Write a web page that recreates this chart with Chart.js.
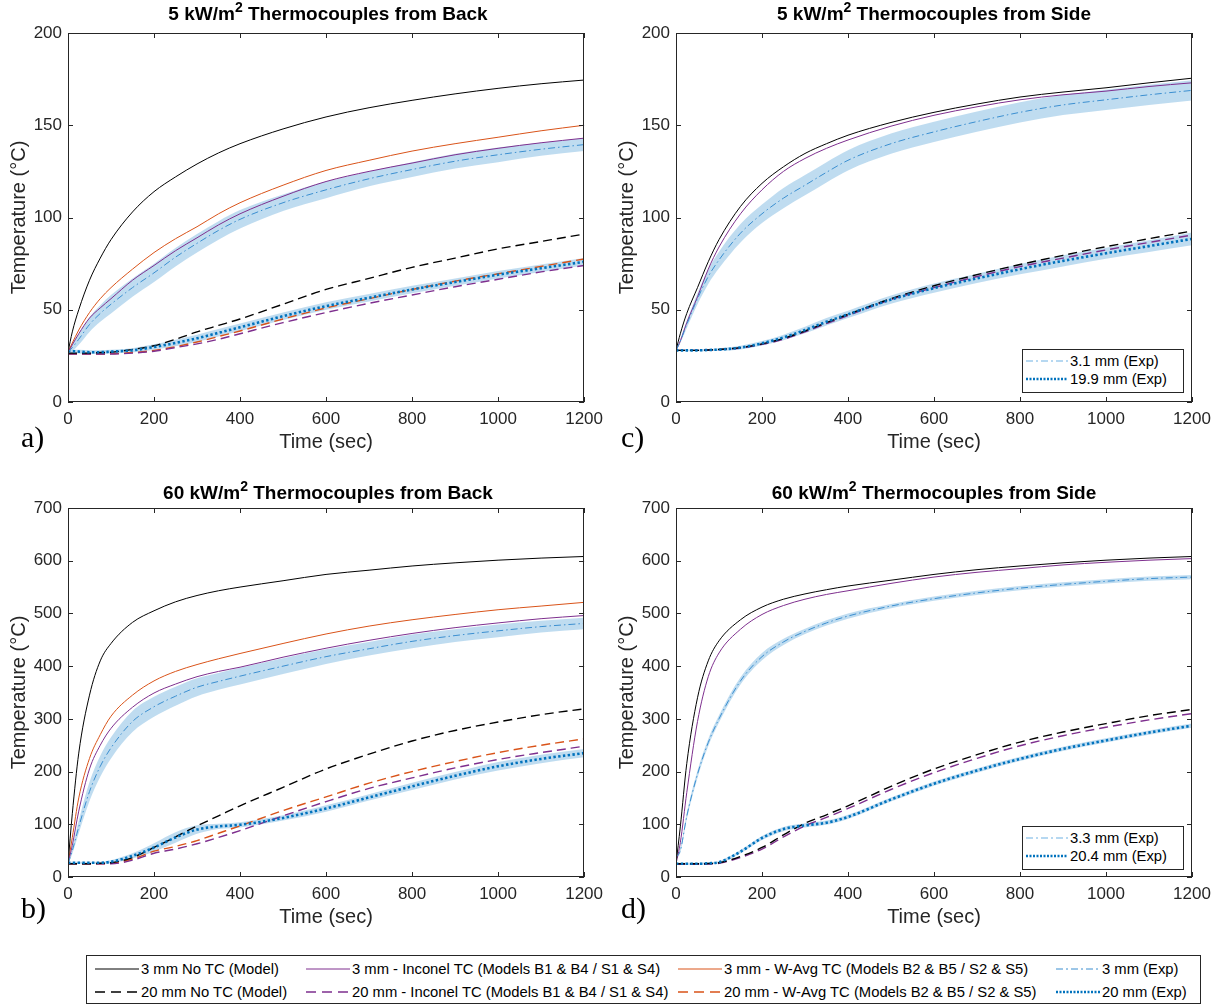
<!DOCTYPE html>
<html>
<head>
<meta charset="utf-8">
<script src="https://cdn.jsdelivr.net/npm/chart.js@4"></script>
<style>
  body { margin: 0; background: #fff; font-family: "Liberation Sans", Arial, sans-serif; color: #262626; }
  #fig { position: relative; width: 1220px; height: 1007px; }
  .panel { position: absolute; width: 610px; height: 460px; }
  .ttl { position: absolute; font-weight: bold; font-size: 19px; color: #000; white-space: nowrap; transform: translateX(-50%); }
  .ttl sup { font-size: 14px; vertical-align: 8px; line-height: 0; }
  .lab { position: absolute; font-family: "Liberation Serif", "Times New Roman", serif; font-size: 30px; color: #000; }
  .legbox { position: absolute; border: 1px solid #262626; background: #fff; }
  .item { position: absolute; display: flex; align-items: center; font-size: 14.8px; white-space: nowrap; color: #000; }
  .item svg { display: block; margin-right: 2px; }
</style>
</head>
<body>
<div id="fig">
  <div class="panel" style="left:0;top:0"><canvas id="cA"></canvas></div>
  <div class="panel" style="left:608px;top:0"><canvas id="cC"></canvas></div>
  <div class="panel" style="left:0;top:475px"><canvas id="cB"></canvas></div>
  <div class="panel" style="left:608px;top:475px"><canvas id="cD"></canvas></div>

  <div class="ttl" style="left:328px;top:3px">5 kW/m<sup>2</sup> Thermocouples from Back</div>
  <div class="ttl" style="left:934px;top:3px">5 kW/m<sup>2</sup> Thermocouples from Side</div>
  <div class="ttl" style="left:328px;top:482px">60 kW/m<sup>2</sup> Thermocouples from Back</div>
  <div class="ttl" style="left:934px;top:482px">60 kW/m<sup>2</sup> Thermocouples from Side</div>

  <div class="lab" style="left:21px;top:420px">a)</div>
  <div class="lab" style="left:21px;top:891px">b)</div>
  <div class="lab" style="left:621px;top:420px">c)</div>
  <div class="lab" style="left:621px;top:891px">d)</div>

  <div id="legC" class="legbox" style="left:1022px;top:349px;width:160px;height:42px"></div>
  <div id="legD" class="legbox" style="left:1022px;top:826px;width:160px;height:42px"></div>
  <div id="legMain" class="legbox" style="left:86px;top:955px;width:1113px;height:47px"></div>
</div>

<script>
// time axis (sec)
const T = [0, 10, 25, 50, 75, 100, 150, 200, 250, 300, 350, 400, 500, 600, 700, 800, 900, 1000, 1100, 1200];

// a) 5 kW/m2, from back
const aNoTC3 = [27, 38, 50, 66, 78, 88, 103, 114, 122, 129, 135, 140, 148, 154.5, 159.5, 163.5, 167, 170, 172.5, 174.5];
const aInc3 = [27, 31, 37, 45.5, 51, 56, 66, 74, 82, 89, 96, 102, 111.5, 119.5, 125, 129.5, 134, 137.5, 140.5, 143];
const aWavg3 = [27, 32, 39, 48.5, 56, 62, 72, 81, 88.5, 95, 102, 108, 117.5, 125.5, 131, 136, 140, 143.5, 147, 150];
const aExp3 = [27, 29.5, 34, 42, 48, 53, 62, 70, 78.5, 86, 93, 99, 108, 115, 121, 126, 130.5, 134, 137, 139.5];
const aExp3Band = [1, 2, 3, 4, 4.5, 5, 5, 5, 5, 5, 5, 5, 4.5, 4.5, 4, 4, 4, 4, 3.5, 3.5];
const aNoTC20 = [26.5, 26.5, 26.5, 26.5, 26.8, 27, 28.5, 30.5, 34, 38, 41.5, 45, 53, 61, 67, 73, 78, 83, 87, 91];
const aInc20 = [26, 26, 26, 26, 26, 26, 26.5, 27.5, 29.5, 31.5, 34, 37, 43, 48.5, 53.5, 58, 62.5, 66.5, 70.5, 74];
const aWavg20 = [26, 26, 26, 26, 26, 26.2, 26.8, 28, 30, 32.5, 35.5, 38.5, 45, 51, 56, 61, 65.5, 69.5, 73.5, 77.5];
const aExp20 = [27.5, 27.5, 27.3, 27, 27, 27.3, 28, 29.8, 32, 34.5, 37.5, 40.5, 46.5, 52, 56.5, 61, 65, 69, 72.5, 76];
const aExp20Band = [1, 1, 1, 1, 1, 1, 1.2, 1.5, 1.8, 2, 2, 2, 2, 2, 2, 2, 2, 2, 2, 2];

// c) 5 kW/m2, from side
const cNoTC3 = [28, 37, 48, 62, 76, 88, 106, 118.5, 127.5, 134.7, 140, 144.6, 151.5, 157, 161.5, 165.3, 168, 170.3, 173, 175.5];
const cInc3 = [28, 33, 43, 57, 72, 84, 102, 115, 125, 132, 137.5, 142, 149.5, 155.4, 160, 163.8, 166.5, 168.5, 171, 173];
const cExp3 = [28, 33, 42, 56, 68, 77, 91.5, 102, 110.5, 117.5, 124.5, 131, 140, 146.4, 152, 157, 161, 163.8, 166.5, 168.9];
const cExp3Band = [0.5, 1, 2, 3, 4, 4.5, 5, 5, 5.5, 5.5, 5.5, 5.5, 5.5, 5.5, 5.5, 5.5, 5.5, 5.5, 5.5, 5.5];
const cNoTC20 = [28, 28, 28, 28, 28.2, 28.5, 29.5, 31.5, 34.5, 38.5, 43, 47.5, 56, 63, 69, 74.5, 79.5, 84.2, 88.5, 92.7];
const cInc20 = [28, 28, 28, 28, 28.2, 28.4, 29.3, 31.2, 34, 38, 42.5, 46.8, 55.5, 62, 68, 73.4, 78, 82.4, 86.5, 90.5];
const cExp20 = [28, 28, 28, 28, 28.2, 28.4, 29.5, 31.8, 35, 39, 43.5, 47.5, 55.5, 61.7, 67, 72, 76.5, 80.6, 84.5, 88.4];
const cExp20Band = [0.5, 0.5, 0.5, 0.5, 0.5, 0.7, 1, 1.2, 1.5, 1.8, 2, 2, 2.2, 2.5, 2.5, 2.8, 3, 3, 3.2, 3.5];

// b) 60 kW/m2, from back
const bNoTC3 = [25, 120, 235, 345, 410, 443, 483, 505, 522, 534, 543, 550, 562, 574, 582, 590, 596, 601, 605, 608];
const bInc3 = [25, 60, 125, 205, 250, 282, 322, 349, 366, 380, 390, 398, 417, 434, 449, 462, 473, 482, 490, 496];
const bWavg3 = [25, 75, 150, 225, 270, 305, 345, 372, 390, 403, 414, 424, 443, 461, 476, 488, 498, 507, 514, 521];
const bExp3 = [25, 50, 95, 162, 210, 245, 295, 323, 343, 360, 371, 381, 400, 418, 433, 447, 458, 467, 475, 481];
const bExp3Band = [2, 6, 12, 18, 20, 20, 20, 19, 18, 17, 16, 16, 15, 14, 13, 13, 12, 12, 11, 11];
const bNoTC20 = [25, 25, 25, 25, 26, 27, 37, 56, 76, 97, 116, 135, 170, 205, 233, 258, 278, 294, 308, 319];
const bInc20 = [25, 25, 25, 25, 25, 25, 32, 45, 53, 63, 75, 88, 116, 143, 168, 188, 207, 223, 236, 248];
const bWavg20 = [25, 25, 25, 25, 25, 26, 34, 49, 58, 69, 83, 97, 126, 152, 178, 200, 219, 236, 250, 262];
const bExp20 = [27, 27, 27, 27, 27, 29, 40, 56, 75, 90, 96, 99, 112, 130, 151, 172, 192, 210, 224, 235];
const bExp20Band = [2, 2, 2, 2, 2, 3, 5, 8, 10, 8, 5, 5, 5, 6, 6, 7, 7, 8, 8, 8];

// d) 60 kW/m2, from side
const dNoTC3 = [25, 95, 215, 340, 410, 448, 488, 512, 527, 537, 545, 552, 563, 574, 583, 590, 596, 601, 605, 608];
const dInc3 = [25, 65, 160, 295, 380, 425, 470, 498, 515, 527, 536, 543, 557, 569, 578, 585, 592, 597, 601, 604];
const dExp3 = [38, 50, 115, 195, 255, 300, 372, 418, 446, 466, 482, 495, 514, 528, 539, 548, 555, 561, 566, 569];
const dExp3Band = [2, 4, 6, 7, 7, 7, 7, 7, 6, 5, 5, 5, 4, 4, 4, 4, 4, 4, 4, 4];
const dNoTC20 = [25, 25, 25, 25, 25.5, 27, 39, 56, 80, 102, 118, 135, 172, 205, 232, 256, 275, 291, 306, 318];
const dInc20 = [24, 24, 24, 24, 24.5, 26, 37, 53, 76, 97, 113, 130, 166, 198, 225, 249, 268, 284, 298, 310];
const dExp20 = [25, 25, 25, 25, 26, 28, 48, 74, 91, 98, 103, 114, 147, 177, 202, 224, 243, 259, 274, 287];
const dExp20Band = [2, 2, 2, 2, 2, 2, 3, 4, 4, 4, 4, 4, 4, 4, 4, 4, 4, 4, 4, 4];

const BLACK = '#000000', PURPLE = '#7E2F8E', ORANGE = '#D95319', BLUE = '#0072BD';
const DASHDOT_BLUE = '#3A8ED0', BAND = 'rgba(180, 214, 237, 0.85)';
const AX = '#262626';
const FONT = '"Liberation Sans", Arial, Helvetica, sans-serif';

const pts = arr => arr.map((v, i) => ({ x: T[i], y: v }));

function line(data, color, opts) {
  return Object.assign({
    data: pts(data), borderColor: color, borderWidth: 1, pointRadius: 0,
    fill: false, cubicInterpolationMode: 'monotone', order: 1
  }, opts || {});
}
function band(mid, spread) {
  const lo = mid.map((v, i) => v - spread[i]);
  const hi = mid.map((v, i) => v + spread[i]);
  return [
    { data: pts(lo), borderWidth: 0, pointRadius: 0, fill: false, cubicInterpolationMode: 'monotone', order: 5 },
    { data: pts(hi), borderWidth: 0, pointRadius: 0, fill: '-1', backgroundColor: BAND, cubicInterpolationMode: 'monotone', order: 5 }
  ];
}

// inward ticks on all four sides plus box
const framePlugin = {
  id: 'frame',
  afterDraw(chart) {
    const { ctx, chartArea: a, scales: { x, y } } = chart;
    ctx.save();
    ctx.strokeStyle = AX;
    ctx.lineWidth = 1;
    ctx.beginPath();
    x.ticks.forEach(t => {
      const px = Math.round(x.getPixelForValue(t.value)) + 0.5;
      ctx.moveTo(px, a.bottom); ctx.lineTo(px, a.bottom - 5);
      ctx.moveTo(px, a.top); ctx.lineTo(px, a.top + 5);
    });
    y.ticks.forEach(t => {
      const py = Math.round(y.getPixelForValue(t.value)) + 0.5;
      ctx.moveTo(a.left, py); ctx.lineTo(a.left + 5, py);
      ctx.moveTo(a.right, py); ctx.lineTo(a.right - 5, py);
    });
    ctx.stroke();
    ctx.strokeRect(Math.round(a.left) + 0.5, Math.round(a.top) + 0.5,
      Math.round(a.right - a.left) - 1, Math.round(a.bottom - a.top) - 1);
    ctx.restore();
  }
};

function makePanel(id, s, yMax, yStep, rightPad) {
  const ds = [];
  ds.push(line(s.exp3, DASHDOT_BLUE, { borderDash: [7, 3, 1.5, 3], order: 0 }));
  ds.push(line(s.exp20, BLUE, { borderWidth: 2.6, borderDash: [2.4, 2.4], order: 0 }));
  ds.push(line(s.noTC3, BLACK));
  ds.push(line(s.inc3, PURPLE));
  if (s.wavg3) ds.push(line(s.wavg3, ORANGE));
  ds.push(line(s.noTC20, BLACK, { borderWidth: 1.4, borderDash: [9, 5] }));
  ds.push(line(s.inc20, PURPLE, { borderWidth: 1.4, borderDash: [9, 5] }));
  if (s.wavg20) ds.push(line(s.wavg20, ORANGE, { borderWidth: 1.4, borderDash: [9, 5] }));
  ds.push(...band(s.exp3, s.exp3Band));
  ds.push(...band(s.exp20, s.exp20Band));

  const tickFont = { family: FONT, size: 17 };
  const titleFont = { family: FONT, size: 20 };
  new Chart(document.getElementById(id), {
    type: 'line',
    data: { datasets: ds },
    options: {
      responsive: true,
      maintainAspectRatio: false,
      animation: false,
      layout: { padding: { top: 33, right: rightPad, bottom: 0, left: 0 } },
      plugins: {
        legend: { display: false },
        tooltip: { enabled: false },
        filler: { drawTime: 'beforeDatasetsDraw' }
      },
      scales: {
        x: {
          type: 'linear', min: 0, max: 1200,
          grid: { display: false, drawTicks: false }, border: { display: false },
          ticks: { stepSize: 200, color: AX, font: tickFont, padding: 7, maxRotation: 0, callback: v => String(v) },
          title: { display: true, text: 'Time (sec)', color: AX, font: titleFont, padding: { top: 0, bottom: 6 } },
          afterFit: sc => { sc.height = 58; }
        },
        y: {
          min: 0, max: yMax,
          grid: { display: false, drawTicks: false }, border: { display: false },
          ticks: { stepSize: yStep, color: AX, font: tickFont, padding: 6, callback: v => String(v) },
          title: { display: true, text: 'Temperature (°C)', color: AX, font: titleFont, padding: { top: 7, bottom: 0 } },
          afterFit: sc => { sc.width = 68; }
        }
      }
    },
    plugins: [framePlugin]
  });
}

makePanel('cA', { noTC3: aNoTC3, inc3: aInc3, wavg3: aWavg3, exp3: aExp3, exp3Band: aExp3Band,
  noTC20: aNoTC20, inc20: aInc20, wavg20: aWavg20, exp20: aExp20, exp20Band: aExp20Band }, 200, 50, 22);
makePanel('cC', { noTC3: cNoTC3, inc3: cInc3, exp3: cExp3, exp3Band: cExp3Band,
  noTC20: cNoTC20, inc20: cInc20, exp20: cExp20, exp20Band: cExp20Band }, 200, 50, 26);
makePanel('cB', { noTC3: bNoTC3, inc3: bInc3, wavg3: bWavg3, exp3: bExp3, exp3Band: bExp3Band,
  noTC20: bNoTC20, inc20: bInc20, wavg20: bWavg20, exp20: bExp20, exp20Band: bExp20Band }, 700, 100, 22);
makePanel('cD', { noTC3: dNoTC3, inc3: dInc3, exp3: dExp3, exp3Band: dExp3Band,
  noTC20: dNoTC20, inc20: dInc20, exp20: dExp20, exp20Band: dExp20Band }, 700, 100, 26);

// legends (html)
function sample(color, dash, width, len) {
  len = len || 44;
  return '<svg width="' + len + '" height="10"><line x1="0" y1="5" x2="' + len + '" y2="5" stroke="' + color +
    '" stroke-width="' + width + '"' + (dash ? ' stroke-dasharray="' + dash + '"' : '') + '/></svg>';
}
function addItem(box, left, top, svg, text) {
  const el = document.createElement('div');
  el.className = 'item';
  el.style.left = left + 'px';
  el.style.top = top + 'px';
  el.innerHTML = svg + '<span>' + text + '</span>';
  box.appendChild(el);
}
const legendItems = [
  [8, 5, sample(BLACK, null, 1), '3 mm No TC (Model)'],
  [219, 5, sample(PURPLE, null, 1), '3 mm - Inconel TC (Models B1 &amp; B4 / S1 &amp; S4)'],
  [591, 5, sample(ORANGE, null, 1), '3 mm - W-Avg TC (Models B2 &amp; B5 / S2 &amp; S5)'],
  [969, 5, sample(DASHDOT_BLUE, '7 3 2 3', 1), '3 mm (Exp)'],
  [8, 28, sample(BLACK, '10 6', 1.3), '20 mm No TC (Model)'],
  [219, 28, sample(PURPLE, '10 6', 1.3), '20 mm - Inconel TC (Models B1 &amp; B4 / S1 &amp; S4)'],
  [591, 28, sample(ORANGE, '10 6', 1.3), '20 mm - W-Avg TC (Models B2 &amp; B5 / S2 &amp; S5)'],
  [969, 28, sample(BLUE, '2 1.5', 2.5), '20 mm (Exp)']
];
const legMain = document.getElementById('legMain');
legendItems.forEach(it => addItem(legMain, it[0], it[1], it[2], it[3]));

const legC = document.getElementById('legC');
addItem(legC, 3, 3, sample('#6FB2E4', '7 3 2 3', 1.2, 42), '3.1 mm (Exp)');
addItem(legC, 3, 21, sample(BLUE, '2 1.5', 2.5, 42), '19.9 mm (Exp)');
const legD = document.getElementById('legD');
addItem(legD, 3, 3, sample('#6FB2E4', '7 3 2 3', 1.2, 42), '3.3 mm (Exp)');
addItem(legD, 3, 21, sample(BLUE, '2 1.5', 2.5, 42), '20.4 mm (Exp)');
</script>
</body>
</html>
